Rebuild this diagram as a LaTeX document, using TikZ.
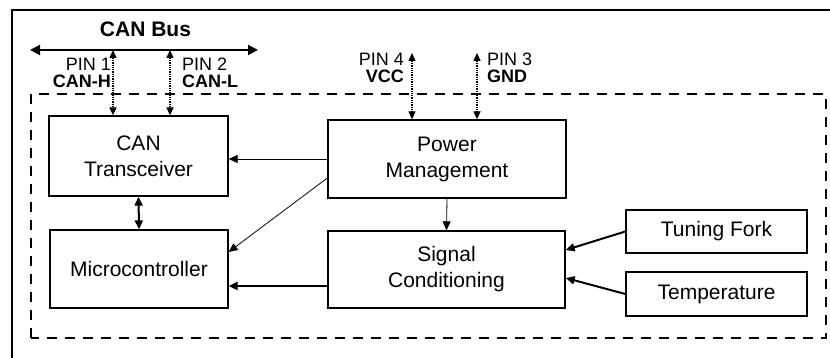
\documentclass[tikz,border=0pt]{standalone}
\usepackage{fontspec}
\setmainfont{Liberation Sans}
\usetikzlibrary{arrows.meta,calc,positioning}

\begin{document}
\begin{tikzpicture}[x=1pt,y=1pt,>={Triangle[width=8pt,length=9pt]},
    block/.style={draw,line width=1.3pt,inner sep=0pt,align=center,
      font=\fontsize{21}{26}\selectfont},
    pin/.style={<->,densely dotted,line width=1.3pt,
      >={Triangle[width=7pt,length=8pt]}},
    pinlabel/.style={inner sep=0pt,font=\fontsize{18}{17}\selectfont},
    feed/.style={->,line width=0.8pt},
    link/.style={->,line width=2pt}]
    \useasboundingbox (0,0) rectangle (830,358);
    \clip (0,0) rectangle (830,358);

    % frame and module outline
    \draw[line width=1.5pt] (12,-10) rectangle (850,348);
    \draw[line width=1.5pt,dash pattern=on 10pt off 8pt] (31,20) rectangle (826,264);

    \node[block,minimum width=179pt,minimum height=80pt] (ct) at (138.5,202) {CAN\\Transceiver};
    \node[block,minimum width=178pt,minimum height=78pt] (mc) at (139,89) {Microcontroller};
    \node[block,minimum width=238pt,minimum height=78pt] (pm) at (447,199) {Power\\Management};
    \node[block,minimum width=237pt,minimum height=77pt] (sc) at (446.5,88.5) {Signal\\Conditioning};
    \node[block,minimum width=181pt,minimum height=43pt] (tf) at (716.5,126.5) {Tuning Fork};
    \node[block,minimum width=181pt,minimum height=44pt] (te) at (716.5,64) {Temperature};

    % bus and connector pins
    \coordinate (busL) at (30,308);
    \coordinate (busR) at (258,308);
    \draw[<->,line width=2pt,>={Triangle[width=10pt,length=10pt]}] (busL) -- (busR);
    \node[font=\bfseries\fontsize{21}{26}\selectfont,anchor=base] (busname) at (145.5,321) {CAN Bus};

    \coordinate (pin1) at (113,308);
    \coordinate (pin2) at (170,308);
    \coordinate (pin4) at (412,305);
    \coordinate (pin3) at (477,305);
    \draw[pin] (pin1) -- (pin1 |- ct.north);
    \draw[pin] (pin2) -- (pin2 |- ct.north);
    \draw[pin] (pin4) -- (pin4 |- pm.north);
    \draw[pin] (pin3) -- (pin3 |- pm.north);
    \node[pinlabel,align=right,below left=8pt and 2pt of pin1] (pin1lab) {PIN 1\\\textbf{CAN-H}};
    \node[pinlabel,align=left,below right=8pt and 12pt of pin2] (pin2lab) {PIN 2\\\textbf{CAN-L}};
    \node[pinlabel,align=right,below left=0pt and 8pt of pin4] (pin4lab) {PIN 4\\\textbf{VCC}};
    \node[pinlabel,align=left,below right=0pt and 10pt of pin3] (pin3lab) {PIN 3\\\textbf{GND}};

    % signal paths
    \coordinate (scout) at ($(sc.west)+(0,-16.5)$);
    \draw[feed] (pm.west) -- (pm.west -| ct.east);
    \draw[feed] ($(pm.west)+(0,-19)$) -- ($(mc.east)+(0,17)$);
    \draw[feed] (pm.south) -- (sc.north);
    \draw[link,<->] (ct.south) -- (mc.north);
    \draw[link] (scout) -- (scout -| mc.east);
    \draw[link] (tf.west) -- ($(sc.east)+(0,19.5)$);
    \draw[link] (te.west) -- ($(sc.east)+(0,-8.5)$);
\end{tikzpicture}
\end{document}
